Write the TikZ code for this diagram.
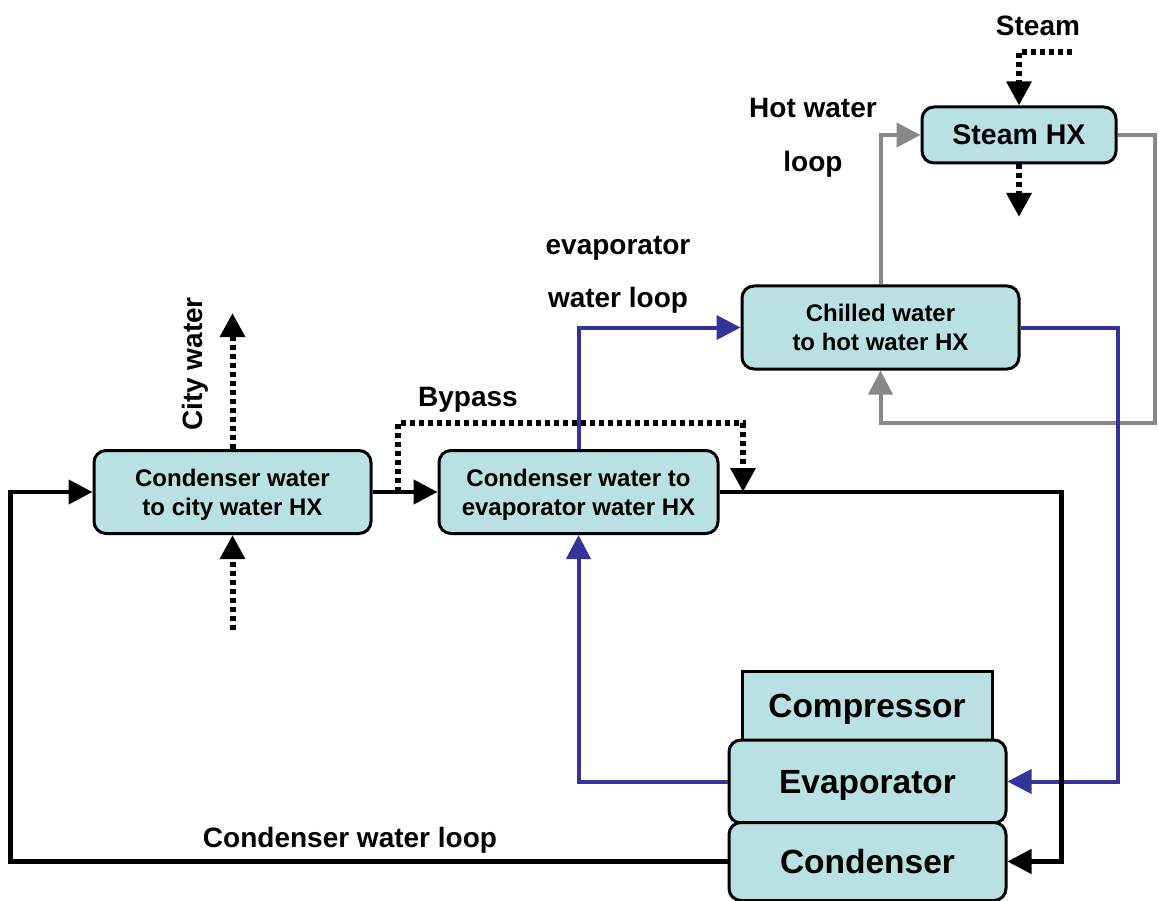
\documentclass[tikz,border=0pt]{standalone}
\usepackage{fontspec}
\setmainfont{Liberation Sans}
\usetikzlibrary{arrows.meta}
\definecolor{fondhx}{HTML}{B9E0E3}
\definecolor{bouclefroide}{HTML}{333399}
\definecolor{bouclechaude}{HTML}{888888}

\begin{document}
\begin{tikzpicture}[
  x=1pt, y=-1pt,
  boite/.style={draw, line width=3pt, fill=fondhx, rounded corners=12pt, align=center,
                inner sep=0pt, text depth=0pt},
  echangeur/.style={boite, minimum width=277pt, minimum height=83pt,
                    font=\fontsize{24}{29}\selectfont\bfseries},
  machine/.style={boite, minimum width=277pt, font=\fontsize{33.5}{40}\selectfont\bfseries},
  etiq/.style={font=\fontsize{28}{34}\selectfont\bfseries, align=center, text depth=0pt},
  fl/.style={-{Triangle[length=24pt, width=24pt]}, line width=4.5pt},
  flbleu/.style={fl, line width=4pt, bouclefroide},
  flgris/.style={fl, line width=4pt, bouclechaude},
  pointille/.style={fl, line width=6pt, dash pattern=on 5pt off 4pt},
]
\useasboundingbox (0,0) rectangle (1159,901);
% les echangeurs
\node[echangeur] (hxville) at (232.5,492) {Condenser water\\to city water HX};
\node[echangeur, minimum width=279pt] (hxevap) at (578.5,492) {Condenser water to\\evaporator water HX};
\node[echangeur] (hxchaud) at (880.5,327.5) {Chilled water\\to hot water HX};
\node[boite, minimum width=194pt, minimum height=56pt,
      font=\fontsize{28.5}{34}\selectfont\bfseries] (hxvapeur) at (1019,135) {Steam HX};
% la machine frigorifique
\node[boite, rounded corners=0pt, minimum width=250pt, minimum height=69pt,
      font=\fontsize{33.5}{40}\selectfont\bfseries] (compr) at (867,705.5) {Compressor};
\node[machine, minimum height=83pt] (evap) at (867.5,781.5) {Evaporator};
\node[machine, minimum height=78pt] (cond) at (867.5,861.5) {Condenser};
% etiquettes
\node[etiq] (lvapeur) at (1038,26) {Steam};
\node[etiq, font=\fontsize{28}{54}\selectfont\bfseries] (lchaud) at (813,135) {Hot water\\loop};
\node[etiq, font=\fontsize{28}{53}\selectfont\bfseries] (lfroid) at (618,271.5) {evaporator\\water loop};
\node[etiq] (lbypass) at (468,397) {Bypass};
\node[etiq, rotate=90] (lville) at (192,364) {City water};
\node[etiq] (lcond) at (350,837) {Condenser water loop};
% entrees et sorties libres
\coordinate (vapin) at (1072,52);
\coordinate (vapout) at (1019,217);
\coordinate (villeout) at (232.5,313);
\coordinate (villein) at (232.5,630);
\coordinate (bpin) at (398,492);
\coordinate (bpout) at (743,492);
% boucle d'eau chaude
\draw[flgris] (hxchaud.north) |- (hxvapeur.west);
\draw[flgris] (hxvapeur.east) -- ++(37,0) |- (hxchaud.south |- 0,423) -- (hxchaud.south);
% boucle de l'evaporateur
\draw[flbleu] (hxchaud.east) -- ++(97,0) |- (evap.east);
\draw[flbleu] (evap.west) -| (hxevap.south);
\draw[flbleu] (hxevap.north) |- (hxchaud.west);
% boucle du condenseur
\draw[fl] (hxville.east) -- (hxevap.west);
\draw[fl] (hxevap.east) -- ++(342,0) |- (cond.east);
\draw[fl] (cond.west) -- ++(-717,0) |- (hxville.west);
% vapeur, eau de ville et bypass
\draw[pointille] (vapin) -| (hxvapeur.north);
\draw[pointille] (hxvapeur.south) -- (vapout);
\draw[pointille] (hxville.north) -- (villeout);
\draw[pointille] (villein) -- (hxville.south);
\draw[pointille] (bpin) -- ++(0,-69) -| (bpout);
\end{tikzpicture}
\end{document}
